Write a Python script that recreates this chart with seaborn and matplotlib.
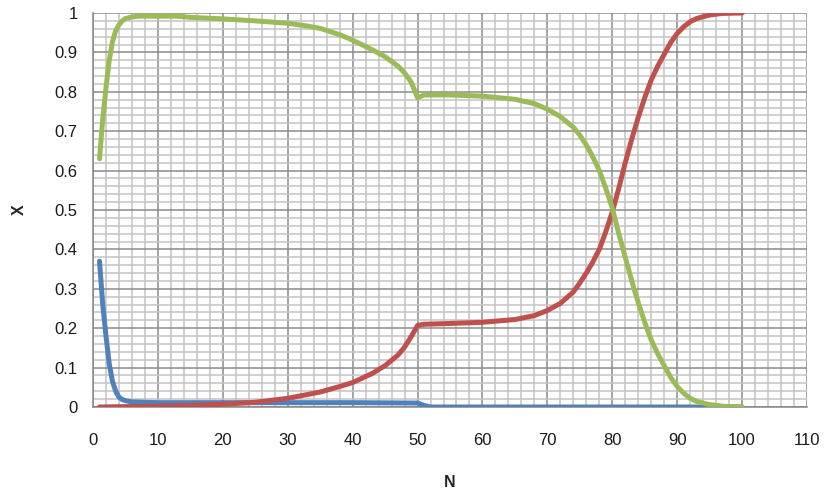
import matplotlib
matplotlib.use("Agg")
import matplotlib.pyplot as plt
import seaborn as sns
import pandas as pd
from matplotlib.ticker import MultipleLocator, FuncFormatter

# --- data ---
blue_n = [1, 1.5, 2, 2.5, 3, 3.5, 4, 4.5, 5, 6, 8, 10, 20, 30, 40, 50, 51, 52, 60, 70, 80, 90, 100]
blue_x = [0.37, 0.26, 0.18, 0.11, 0.065, 0.04, 0.025, 0.019, 0.016, 0.013, 0.012, 0.011, 0.011, 0.011, 0.011, 0.010,
          0.004, 0.0, 0.0, 0.0, 0.0, 0.0, 0.0]

green_n = [1, 1.5, 2, 2.5, 3, 3.5, 4, 4.5, 5, 6, 7, 8, 10, 13, 15, 20, 25, 30, 33, 35, 38, 40, 43, 45, 47, 48, 49, 50,
           51, 55, 60, 65, 68, 70, 72, 74, 75, 76, 77, 78, 79, 80,
           81, 82, 83, 84, 85, 86, 87, 88, 89, 90, 91, 92, 93, 95, 97, 100]
green_x = [0.63, 0.73, 0.81, 0.88, 0.927, 0.955, 0.97, 0.98, 0.986, 0.99, 0.992, 0.992, 0.992, 0.992, 0.989, 0.985,
           0.98, 0.974, 0.967, 0.961, 0.945, 0.931, 0.907, 0.889, 0.865, 0.848, 0.825, 0.785,
           0.792, 0.792, 0.789, 0.781, 0.77, 0.756, 0.737, 0.71, 0.69, 0.665, 0.635, 0.6, 0.555, 0.505,
           0.44, 0.38, 0.32, 0.265, 0.215, 0.17, 0.135, 0.105, 0.075, 0.052, 0.035, 0.022, 0.014, 0.006, 0.002, 0.0]

red_n = [1, 5, 10, 15, 20, 25, 30, 35, 38, 40, 43, 45, 47, 48, 49, 50, 51, 55, 60, 65, 68, 70, 72, 74, 75, 76, 77,
         78, 79, 80, 81, 82, 83, 84, 85, 86, 87, 88, 89, 90, 91, 92, 93, 95, 97, 100]
red_x = [0.0, 0.001, 0.002, 0.004, 0.007, 0.012, 0.022, 0.038, 0.052, 0.062, 0.085, 0.105, 0.132, 0.152, 0.178,
         0.207, 0.21, 0.212, 0.215, 0.222, 0.232, 0.245, 0.263, 0.292, 0.315, 0.34, 0.368,
         0.4, 0.445, 0.495, 0.555, 0.62, 0.68, 0.735, 0.785, 0.83, 0.865, 0.895, 0.925, 0.948, 0.965, 0.978, 0.986,
         0.995, 0.999, 1.0]

series_names = ["blue", "red", "green"]
colors = {"blue": "#4F81BD", "red": "#C0504D", "green": "#9BBB59"}

frames = [
    pd.DataFrame({"N": blue_n, "X": blue_x, "s": "blue"}),
    pd.DataFrame({"N": red_n, "X": red_x, "s": "red"}),
    pd.DataFrame({"N": green_n, "X": green_x, "s": "green"}),
]
df = pd.concat(frames, ignore_index=True)

sns.set_style("white")
plt.rcParams["font.family"] = ["Liberation Sans", "DejaVu Sans"]

fig = plt.figure(figsize=(8.27, 4.93), dpi=100)
ax = fig.add_axes([93 / 827, 1 - 407 / 493, (807 - 93) / 827, (407 - 13) / 493])

sns.lineplot(data=df, x="N", y="X", hue="s", hue_order=series_names, palette=colors,
             linewidth=3.6, legend=False, ax=ax, sort=False, estimator=None, zorder=3,
             solid_capstyle="round", solid_joinstyle="round")

ax.set_xlim(0, 110)
ax.set_ylim(0, 1)
ax.xaxis.set_major_locator(MultipleLocator(10))
ax.xaxis.set_minor_locator(MultipleLocator(2))
ax.yaxis.set_major_locator(MultipleLocator(0.1))
ax.yaxis.set_minor_locator(MultipleLocator(0.02))
ax.yaxis.set_major_formatter(FuncFormatter(lambda v, p: f"{v:g}"))

ax.grid(which="minor", color="#c4c4c4", linewidth=1.1, zorder=0)
ax.grid(which="major", color="#8a8a8a", linewidth=1.1, zorder=1)
ax.set_axisbelow(True)

for s in ["top", "right"]:
    ax.spines[s].set_visible(False)
for s in ["left", "bottom"]:
    ax.spines[s].set_color("#868686")
    ax.spines[s].set_linewidth(1.1)

ax.tick_params(which="major", direction="out", length=5, width=1.1, color="#868686",
               labelsize=12, labelcolor="#1a1a1a", pad=6)
ax.tick_params(axis="x", pad=14)
ax.tick_params(which="minor", length=0)

ax.set_xlabel("N", fontsize=11.5, fontweight="bold", labelpad=19)
ax.set_ylabel("X", fontsize=11.5, fontweight="bold", rotation=90, labelpad=20)

fig.savefig("out.png", dpi=100)
